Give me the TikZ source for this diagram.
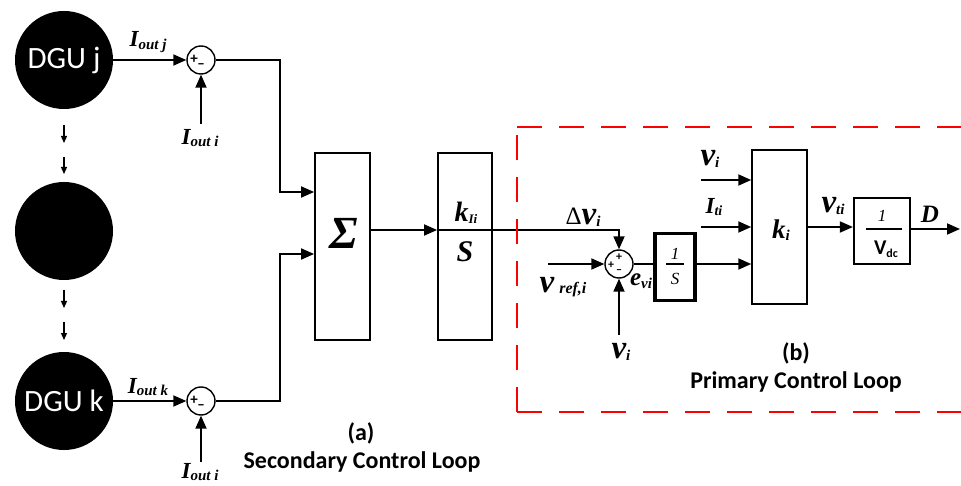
\documentclass[tikz,border=0pt]{standalone}
\usepackage{fontspec}
\setmainfont{Liberation Serif}
\newfontfamily\carl{Carlito}
\usetikzlibrary{arrows.meta,calc}
\newcommand{\vsb}[4]{{\fontsize{#1}{#1}\selectfont #2}\raisebox{-0.25em}{\fontsize{#3}{#3}\selectfont #4}}
\begin{document}
\begin{tikzpicture}[x=1pt,y=-1pt,
 wire/.style={line width=1.8pt},
 arr/.style={wire,-{Triangle[length=13pt,width=11pt]}},
 sarr/.style={line width=1.2pt,-{Triangle[length=7pt,width=6pt]}},
 dgu/.style={circle,fill=black,minimum size=98pt,inner sep=0pt,text=white,font=\carl\fontsize{31}{31}\selectfont},
 sumc/.style={circle,draw,line width=1.4pt,minimum size=28pt,inner sep=0pt},
 blk/.style={draw,line width=1.8pt,inner sep=0pt},
 lab/.style={font=\bfseries\itshape,inner sep=0pt},
 capt/.style={font=\carl\bfseries\fontsize{24}{24}\selectfont,inner sep=0pt},
 reddash/.style={red,line width=1.5pt,dash pattern=on 25pt off 17pt},
 sgn/.style={font=\carl\bfseries\fontsize{15}{15}\selectfont,inner sep=0pt},
 ssgn/.style={font=\carl\bfseries\fontsize{12}{12}\selectfont,inner sep=0pt}
]
\path[fill=white] (0,0) rectangle (961,486);
\useasboundingbox (0,0) rectangle (961,486);

% DGU circles
\node[dgu] (j) at (64,60) {DGU j};
\node[dgu] (m) at (64,231) {};
\node[dgu] (k) at (64,401) {DGU k};
\coordinate (d1a) at (64,125); \coordinate (d1b) at (64,143);
\coordinate (d2a) at (64,157); \coordinate (d2b) at (64,174);
\coordinate (d3a) at (64,290); \coordinate (d3b) at (64,308);
\coordinate (d4a) at (64,322); \coordinate (d4b) at (64,340);
\draw[sarr] (d1a) -- (d1b);
\draw[sarr] (d2a) -- (d2b);
\draw[sarr] (d3a) -- (d3b);
\draw[sarr] (d4a) -- (d4b);

% secondary junctions
\node[sumc] (sj) at (201,60) {};
\node[sgn] (sjp) at ($(sj)+(-7,-1)$) {+};
\node[sgn] (sjm) at ($(sj)+(0,6)$) {–};
\node[sumc] (sk) at (201,401) {};
\node[sgn] (skp) at ($(sk)+(-7,-1)$) {+};
\node[sgn] (skm) at ($(sk)+(0,6)$) {–};
\draw[arr] (j.east |- sj) -- (sj.west);
\draw[arr] (k.east |- sk) -- (sk.west);
\node[lab] (lj) at (148,42) {\vsb{23}{I}{15}{out j}};
\node[lab] (lk) at (148,387) {\vsb{23}{I}{15}{out k}};
\coordinate (ij) at (201,124);
\coordinate (ik) at (201,462);
\draw[arr] (ij) -- (sj.south);
\draw[arr] (ik) -- (sk.south);
\node[lab] (lij) at (200,138) {\vsb{23}{I}{15}{out i}};
\node[lab] (lik) at (200,472) {\vsb{23}{I}{15}{out i}};

% sigma block
\node[blk,minimum width=55pt,minimum height=187pt] (sig) at (342.5,246.5) {};
\node[lab,font=\bfseries\itshape\fontsize{46}{46}\selectfont] (sigt) at (344,233) {Σ};
\coordinate (in1) at (sig.west |- 0,192);
\coordinate (in2) at (sig.west |- 0,254);
\draw[arr] (sj.east) -| ([xshift=-34pt]in1) -- (in1);
\draw[arr] (sk.east) -| ([xshift=-34pt]in2) -- (in2);

% kIi/S block
\node[blk,minimum width=54pt,minimum height=187pt] (kb) at (465,246.5) {};
\node[lab] (kIi) at (466,213) {\vsb{28}{k}{13}{Ii}};
\node[lab,font=\bfseries\itshape\fontsize{30}{30}\selectfont] (kS) at (465,252) {S};
\coordinate (sigo) at (sig.east |- 0,230);
\coordinate (kbi) at (kb.west |- 0,230);
\draw[arr] (sigo) -- (kbi);

% primary loop
\node[sumc] (sv) at (619,264) {};
\node[ssgn] (svp1) at ($(sv)+(0,-7)$) {+};
\node[ssgn] (svp2) at ($(sv)+(-8,1)$) {+};
\node[ssgn] (svm) at ($(sv)+(0,8)$) {–};
\draw[arr] (kbi) -| (sv.north);
\node[lab] (dv) at (583,217) {{\normalfont\fontsize{25}{25}\selectfont Δ}\vsb{33}{v}{15}{i}};
\coordinate (vref) at (548,264);
\draw[arr] (vref) -- (sv.west);
\node[lab] (lvref) at (563,287) {{\fontsize{33}{33}\selectfont v}\enspace\raisebox{-0.15em}{\fontsize{16}{16}\selectfont ref,i}};
\coordinate (vbot) at (619,335);
\draw[arr] (vbot) -- (sv.south);
\node[lab] (lvb) at (621,352) {\vsb{33}{v}{15}{i}};
\node[lab] (lev) at (641,281) {\vsb{25}{e}{15}{vi}};

\node[blk,line width=3.5pt,minimum width=40pt,minimum height=67pt] (sb) at (675,267) {};
\node[font=\itshape\fontsize{17}{17}\selectfont,inner sep=0pt] (sb1) at (675,254) {1};
\node[font=\itshape\fontsize{17}{17}\selectfont,inner sep=0pt] (sbS) at (675,279) {S};
\draw[line width=1.2pt] ($(sb.center)+(-9,-3)$) -- ($(sb.center)+(9,-3)$);
\draw[wire] (sv.east) -- (sb.west |- sv.east);

\node[draw,line width=1.5pt,inner sep=0pt,minimum width=55pt,minimum height=154pt] (kib) at (779.5,227) {};
\node[lab] (lki) at (781,230) {\vsb{27}{k}{15}{i}};
\draw[arr] (sb.east |- sv.east) -- (kib.west |- sv.east);
\coordinate (vin) at (701,180);
\coordinate (iin) at (701,227);
\draw[arr] (vin) -- (kib.west |- vin);
\draw[arr] (iin) -- (kib.west |- iin);
\node[lab] (lvin) at (710,159) {\vsb{33}{v}{15}{i}};
\node[lab] (liin) at (714,207) {\vsb{23}{I}{14}{ti}};

\node[blk,line width=2.2pt,minimum width=56pt,minimum height=66pt] (vdcb) at (882,231) {};
\node[font=\itshape\fontsize{17}{17}\selectfont,inner sep=0pt] (vd1) at (882,216) {1};
\draw[line width=1.2pt] ($(vdcb.center)+(-16,-2)$) -- ($(vdcb.center)+(20,-2)$);
\node[font=\carl\bfseries,inner sep=0pt] (vd2) at (886,249) {\vsb{21}{V}{12}{dc}};
\draw[arr] (kib.east |- iin) -- (vdcb.west |- iin);
\node[lab] (lvt) at (833,206) {\vsb{33}{v}{15}{ti}};
\coordinate (dout) at (960,229);
\draw[arr] (vdcb.east |- dout) -- (dout);
\node[lab,font=\bfseries\itshape\fontsize{25}{25}\selectfont] (lD) at (930,214) {D};

% red dashed frame
\draw[reddash] (517,127) -- (961,127);
\draw[reddash] (517,412) -- (517,127);
\draw[reddash] (517,412) -- (961,412);

% captions
\node[capt] (ca) at (361,433) {(a)};
\node[capt] (cs) at (362,462) {Secondary Control Loop};
\node[capt] (cb) at (796,353) {(b)};
\node[capt] (cp) at (796,382) {Primary Control Loop};
\end{tikzpicture}
\end{document}
